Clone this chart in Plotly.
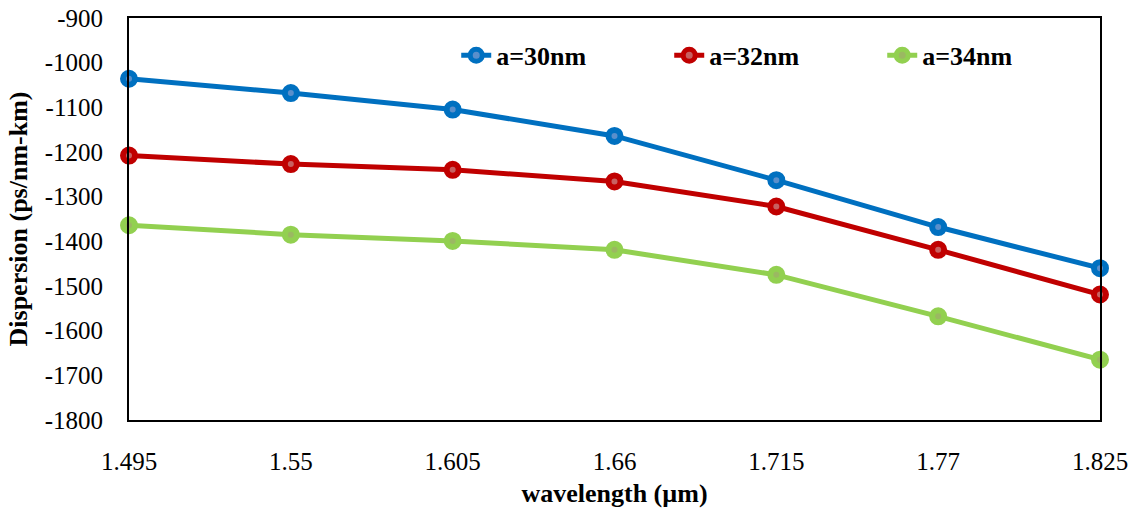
import plotly.graph_objects as go

# Wavelength sample points (µm) and dispersion values (ps/nm-km)
wavelength = [1.495, 1.55, 1.605, 1.66, 1.715, 1.77, 1.825]
x_tick_labels = ["1.495", "1.55", "1.605", "1.66", "1.715", "1.77", "1.825"]

y_tick_values = [-900, -1000, -1100, -1200, -1300, -1400, -1500, -1600, -1700, -1800]
y_tick_labels = ["-900", "-1000", "-1100", "-1200", "-1300",
                 "-1400", "-1500", "-1600", "-1700", "-1800"]

disp_a30 = [-1036, -1068, -1105, -1164, -1263, -1368, -1460]
disp_a32 = [-1208, -1227, -1240, -1266, -1322, -1419, -1519]
disp_a34 = [-1364, -1385, -1399, -1419, -1475, -1568, -1665]

series = [
    ("a=30nm", disp_a30, "#0070C0", "#5A8FCB"),
    ("a=32nm", disp_a32, "#C00000", "#C86060"),
    ("a=34nm", disp_a34, "#92D050", "#9BB862"),
]

FONT = "Liberation Serif"

fig = go.Figure()
for name, vals, color, center in series:
    fig.add_trace(go.Scatter(
        x=wavelength, y=vals, name=f"<b>{name}</b>", mode="lines+markers",
        line=dict(color=color, width=5),
        marker=dict(symbol="circle", size=12, color=center,
                    line=dict(color=color, width=6)),
        cliponaxis=False,
    ))

axis_common = dict(
    showline=True, linecolor="black", linewidth=2, mirror=True,
    showgrid=False, zeroline=False, ticks="",
    tickfont=dict(family=FONT, size=25, color="black"),
)

fig.update_layout(
    width=1143, height=508,
    margin=dict(l=129, r=43, t=18, b=88, autoexpand=False),
    paper_bgcolor="white", plot_bgcolor="white",
    font=dict(family=FONT, color="black"),
    xaxis=dict(
        range=[1.495, 1.825], tickvals=wavelength, ticktext=x_tick_labels,
        ticklabelstandoff=18,
        title=dict(text="<b>wavelength (µm)</b>", font=dict(family=FONT, size=26),
                   standoff=12),
        **axis_common,
    ),
    yaxis=dict(
        range=[-1800, -900], tickvals=y_tick_values, ticktext=y_tick_labels,
        ticklabelstandoff=19,
        title=dict(text="<b>Dispersion (ps/nm-km)</b>", font=dict(family=FONT, size=26),
                   standoff=10),
        **axis_common,
    ),
    legend=dict(
        orientation="h", x=0.337, y=0.907, xanchor="left", yanchor="middle",
        font=dict(family=FONT, size=26, color="black"),
        bgcolor="rgba(0,0,0,0)", entrywidth=168,
    ),
    showlegend=True,
)

fig.write_html("out.html")
